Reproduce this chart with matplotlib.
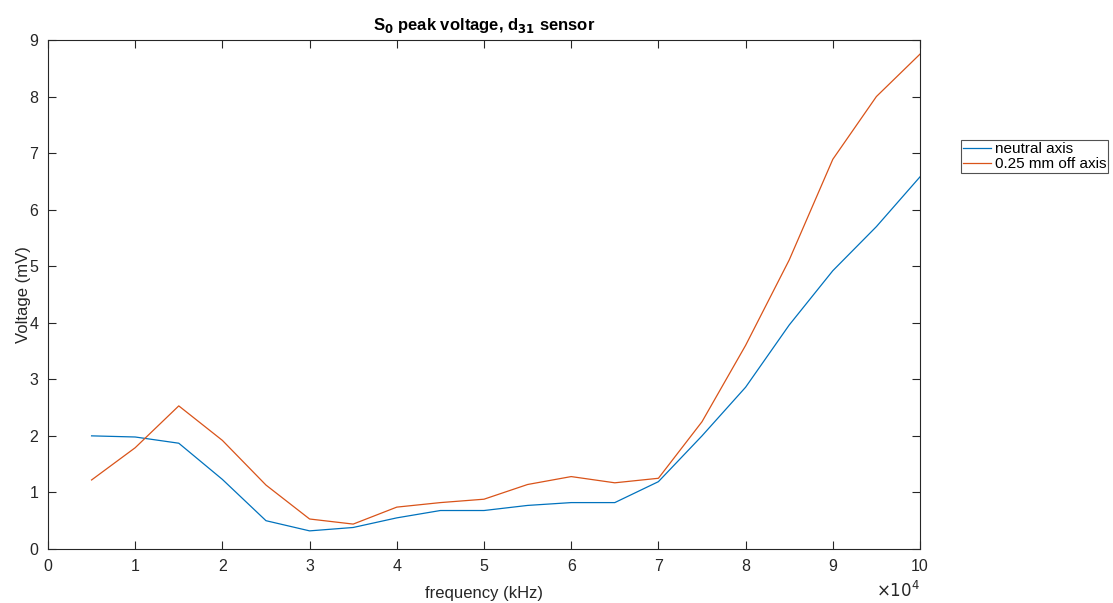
import matplotlib
matplotlib.use("Agg")
import matplotlib.pyplot as plt
from matplotlib.ticker import FuncFormatter, MultipleLocator

plt.rcParams['font.family'] = ['Liberation Sans', 'DejaVu Sans']

freq = [5000, 10000, 15000, 20000, 25000, 30000, 35000, 40000, 45000, 50000,
        55000, 60000, 65000, 70000, 75000, 80000, 85000, 90000, 95000, 100000]
neutral = [2.00, 1.98, 1.87, 1.23, 0.50, 0.32, 0.38, 0.55, 0.68, 0.68,
           0.77, 0.82, 0.82, 1.19, 2.00, 2.86, 3.96, 4.92, 5.70, 6.58]
off_axis = [1.22, 1.79, 2.53, 1.92, 1.13, 0.53, 0.44, 0.74, 0.82, 0.88,
            1.14, 1.28, 1.17, 1.25, 2.25, 3.60, 5.11, 6.89, 8.00, 8.75]
labels = ["neutral axis", "0.25 mm off axis"]

fig = plt.figure(figsize=(11.13, 6.03), dpi=100)
ax = fig.add_axes([0.0431, 0.0896, 0.7835, 0.8441])

ax.plot(freq, neutral, color='#0072BD', lw=0.9, label=labels[0])
ax.plot(freq, off_axis, color='#D95319', lw=0.9, label=labels[1])

ax.set_xlim(0, 100000)
ax.set_ylim(0, 9)
ax.xaxis.set_major_locator(MultipleLocator(10000))
ax.yaxis.set_major_locator(MultipleLocator(1))
ax.xaxis.set_major_formatter(FuncFormatter(lambda v, p: f"{v/1e4:g}"))

for s in ax.spines.values():
    s.set_color('#262626')
    s.set_linewidth(0.8)
ax.tick_params(direction='in', top=True, right=True, length=6, width=0.8,
               colors='#262626', labelsize=11.5, pad=7)

# exponent of the x tick labels, drawn under the right end of the axis
ax.text(1.0, -0.094, r'$\times10^{4}$', transform=ax.transAxes, ha='right',
        va='baseline', fontsize=12, color='#262626')

ax.set_xlabel('frequency (kHz)', fontsize=12, color='#262626', labelpad=9)
ax.set_ylabel('Voltage (mV)', fontsize=12, color='#262626', labelpad=-1)
ax.set_title(r'S$_\mathbf{0}$ peak voltage, d$_\mathbf{31}$ sensor',
             fontsize=12, fontweight='bold', color='black', pad=7)

leg = ax.legend(loc='center left', bbox_to_anchor=(1.047, 0.771), fontsize=11,
                frameon=True, fancybox=False, edgecolor='#262626',
                handlelength=1.8, handletextpad=0.25, borderpad=0.15,
                labelspacing=0.05, borderaxespad=0)
leg.get_frame().set_linewidth(0.8)

fig.savefig('out.png', dpi=100)
